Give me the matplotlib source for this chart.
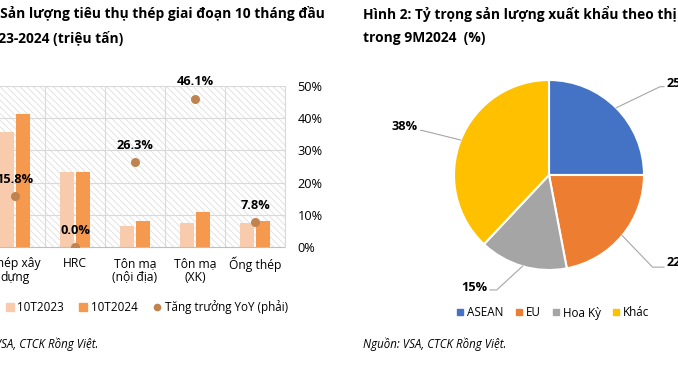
import matplotlib
matplotlib.use("Agg")
import matplotlib.pyplot as plt
from matplotlib.patches import Rectangle
from matplotlib.lines import Line2D
import numpy as np

plt.rcParams['font.family'] = ['Open Sans', 'DejaVu Sans']
plt.rcParams['hatch.linewidth'] = 0.6

# ---- data, left chart (triệu tấn / %)
categories = ["Thép xây\ndựng", "HRC", "Tôn mạ\n(nội địa)", "Tôn mạ\n(XK)", "Ống thép"]
sl_2023 = [7.15, 4.65, 1.30, 1.50, 1.48]
sl_2024 = [8.28, 4.65, 1.62, 2.19, 1.60]
yoy = [15.8, 0.0, 26.3, 46.1, 7.8]

# ---- data, right chart (%)
markets = ["ASEAN", "EU", "Hoa Kỳ", "Khác"]
shares = [25, 22, 15, 38]
pie_colors = ["#4472C4", "#ED7D31", "#A5A5A5", "#FFC000"]

W, H = 678, 366
fig = plt.figure(figsize=(W / 100, H / 100), dpi=100)

def fx(px):
    return px / W

def fy(px):
    return 1 - px / H

# titles
tfs = 9.9
fig.text(fx(-52), fy(6), "Hình 1: Sản lượng tiêu thụ thép giai đoạn 10 tháng đầu",
         fontsize=tfs, fontweight='bold', va='top', ha='left')
fig.text(fx(-52), fy(31), "năm 2023-2024 (triệu tấn)",
         fontsize=tfs, fontweight='bold', va='top', ha='left')
fig.text(fx(363), fy(6), "Hình 2: Tỷ trọng sản lượng xuất khẩu theo thị trường",
         fontsize=tfs, fontweight='bold', va='top', ha='left')
fig.text(fx(363), fy(31), "trong 9M2024  (%)",
         fontsize=tfs, fontweight='bold', va='top', ha='left')

# ---- left chart
ax = fig.add_axes([fx(-15), fy(247), fx(300), 161 / H])
ax2 = ax.twinx()
x = np.arange(len(categories))
bw = 0.235
ax.add_patch(Rectangle((0, 0), 1, 1, transform=ax.transAxes, fill=False,
                       hatch='\\\\\\\\\\', edgecolor='#dedede', lw=0, zorder=0))
ax.bar(x - 0.14, sl_2023, bw, color='#F8CBAD', zorder=2, label='10T2023')
ax.bar(x + 0.14, sl_2024, bw, color='#F5994F', zorder=2, label='10T2024')
ax.set_xlim(-0.5, len(categories) - 0.5)
ax.set_ylim(0, 10)
ax.set_yticks([])
for b in np.arange(0.5, len(categories), 1.0):
    ax.axvline(b, color='#d9d9d9', lw=0.8, zorder=1)
for g in np.arange(2, 10.1, 2):
    ax.axhline(g, color='#d9d9d9', lw=0.8, zorder=1)
ax.set_xticks(x)
ax.set_xticklabels(categories, fontsize=8.7, linespacing=1.1)
ax.tick_params(axis='x', length=0, pad=7)
for s in ['left', 'top', 'right']:
    ax.spines[s].set_visible(False)
ax.spines['bottom'].set_color('#bfbfbf')

ax2.scatter(x, yoy, s=30, color='#C0834D', zorder=4, label='Tăng trưởng YoY (phải)')
for xi, v in zip(x, yoy):
    ax2.annotate(f"{v:.1f}%", (xi, v), xytext=(0, 12), textcoords='offset points',
                 ha='center', va='center', fontsize=9.2, fontweight='bold')
ax2.set_ylim(0, 50)
ax2.set_yticks(np.arange(0, 51, 10))
ax2.set_yticklabels([f"{t}%" for t in range(0, 51, 10)], fontsize=9.2)
ax2.tick_params(axis='y', length=0, pad=9)
for s in ['left', 'top', 'bottom']:
    ax2.spines[s].set_visible(False)
ax2.spines['right'].set_color('#d9d9d9')
ax.set_zorder(1)
ax2.set_zorder(2)
ax2.patch.set_visible(False)

handles = [Line2D([], [], marker='s', ls='', color='#F8CBAD', markersize=5.5),
           Line2D([], [], marker='s', ls='', color='#F5994F', markersize=5.5),
           Line2D([], [], marker='o', ls='', color='#C0834D', markersize=4.5)]
fig.legend(handles, ['10T2023', '10T2024', 'Tăng trưởng YoY (phải)'],
           loc='center left', bbox_to_anchor=(fx(0), fy(307)), ncol=3,
           frameon=False, fontsize=8.4, handlelength=0.7, handletextpad=0.3,
           columnspacing=1.3, borderpad=0)

fig.text(fx(-45), fy(344), "Nguồn: VSA, CTCK Rồng Việt.", fontsize=8.3,
         style='italic', va='center', ha='left')

# ---- right chart
R = 95
pax = fig.add_axes([fx(549 - R), fy(175 + R), fx(2 * R), 2 * R / H])
wedges, _ = pax.pie(shares, colors=pie_colors, startangle=90, counterclock=False,
                    wedgeprops=dict(edgecolor='white', linewidth=1.5))
pax.set_xlim(-1, 1)
pax.set_ylim(-1, 1)
pax.set_aspect('equal')

# label anchors (radius units) and leader-line elbows
label_pos = [(1.24, 0.96), (1.24, -0.92), (-0.65, -1.18), (-1.38, 0.51)]
elbow = [(1.17, 0.93), (1.09, -0.97), (-0.55, -1.21), (-1.34, 0.47)]
for w, v, lp, el in zip(wedges, shares, label_pos, elbow):
    ang = np.deg2rad((w.theta1 + w.theta2) / 2)
    sx, sy = np.cos(ang), np.sin(ang)
    ex, ey = el
    end = lp[0] - 0.03 if lp[0] > 0 else lp[0] + 0.03
    pax.plot([sx, ex, end], [sy, ey, ey], color='#a6a6a6', lw=0.8, clip_on=False)
    pax.text(lp[0], lp[1], f"{v}%", fontsize=9.2, fontweight='bold',
             ha='left' if lp[0] > 0 else 'right', va='center', clip_on=False)

phandles = [Line2D([], [], marker='s', ls='', color=c, markersize=4.5) for c in pie_colors]
fig.legend(phandles, markets, loc='center', bbox_to_anchor=(fx(553), fy(313)),
           ncol=4, frameon=False, fontsize=8.4, handlelength=0.6,
           handletextpad=0.3, columnspacing=1.0, borderpad=0)

fig.text(fx(363), fy(344), "Nguồn: VSA, CTCK Rồng Việt.", fontsize=8.3,
         style='italic', va='center', ha='left')

fig.savefig("out.png", dpi=100)
